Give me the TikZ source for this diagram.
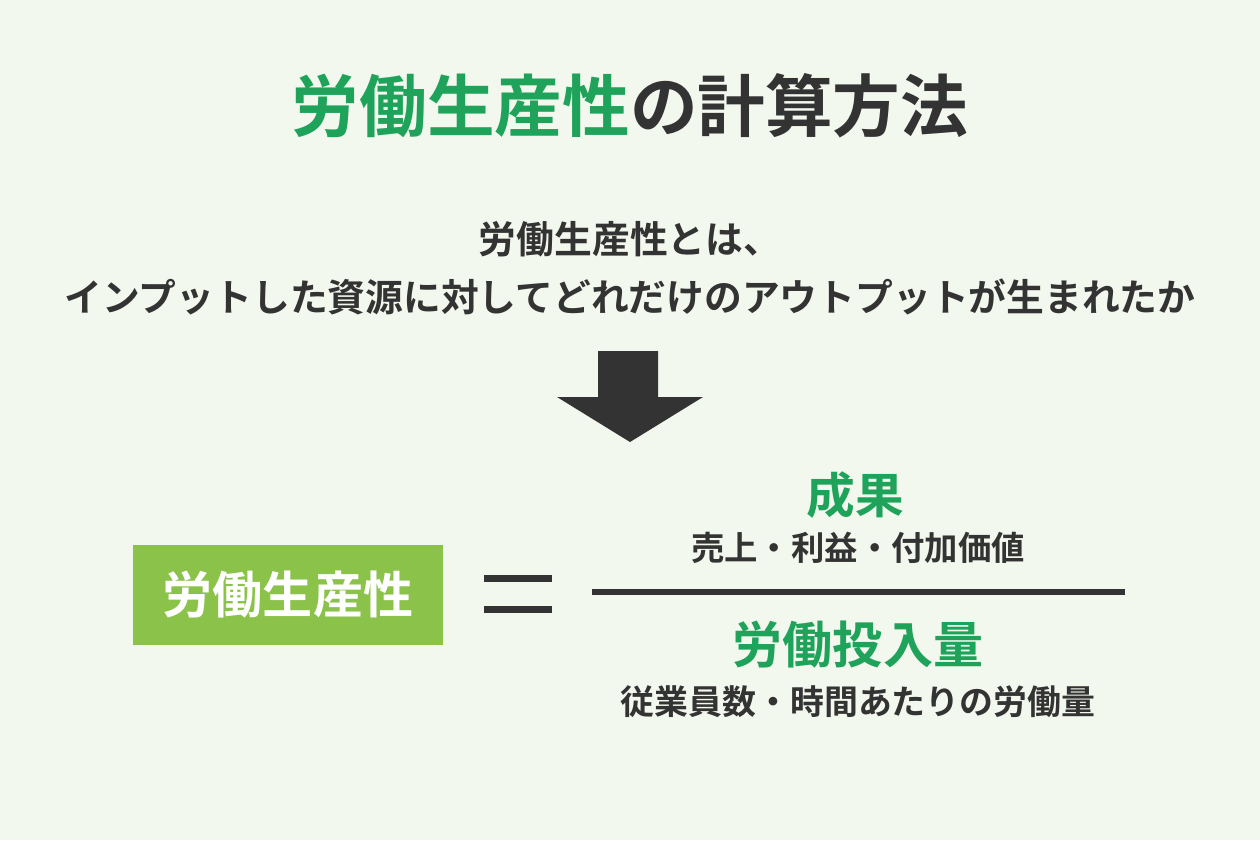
\documentclass[tikz,border=0pt]{standalone}
\usepackage{fontspec}
\newfontfamily\jpbold{Noto Sans CJK JP Bold}
\usepackage{tikz}
\definecolor{bgcol}{HTML}{F3F8EE}
\definecolor{darktxt}{HTML}{333333}
\definecolor{greentxt}{HTML}{1FA35B}
\definecolor{boxgreen}{HTML}{8BC34A}
\tikzset{
	txt/.style={text=darktxt,font=\jpbold,inner sep=0pt},
}
\begin{document}
\begin{tikzpicture}[x=0.02cm,y=-0.02cm]
	%BACKGROUND
	\fill[bgcol] (0,0) rectangle (1260,840);
	\useasboundingbox (0,0) rectangle (1260,840);

	%TITLE
	\node[txt,font=\jpbold\fontsize{38.5}{44}\selectfont] (title) at (630,106)
		{\textcolor{greentxt}{労働生産性}の計算方法};

	%DEFINITION
	\node[txt,font=\jpbold\fontsize{21.5}{33}\selectfont,align=center] (defn) at (630,268)
		{労働生産性とは、\\インプットした資源に対してどれだけのアウトプットが生まれたか};

	%ARROW
	\fill[darktxt] (598,351)--(658,351)--(658,397)--(703,397)--(630,442)--(557,397)--(598,397)--cycle;

	%FORMULA
	\node[fill=boxgreen,minimum width=310*0.02cm,minimum height=100*0.02cm,
		text=white,font=\jpbold\fontsize{28.5}{32}\selectfont] (lp) at (288,595) {労働生産性};
	\draw[darktxt,line width=7*0.02cm] (484,578)--(552,578);	%equals, top
	\draw[darktxt,line width=7*0.02cm] (484,609)--(552,609);	%equals, bottom
	\draw[darktxt,line width=6*0.02cm] (592,592)--(1125,592);	%fraction bar

	\node[txt,text=greentxt,font=\jpbold\fontsize{27.7}{32}\selectfont] (num) at (855,495) {成果};
	\node[txt,font=\jpbold\fontsize{19}{22}\selectfont] (numsub) at (858,548) {売上・利益・付加価値};
	\node[txt,text=greentxt,font=\jpbold\fontsize{28.5}{32}\selectfont] (den) at (858,645) {労働投入量};
	\node[txt,font=\jpbold\fontsize{19.3}{22}\selectfont] (densub) at (858,702) {従業員数・時間あたりの労働量};
\end{tikzpicture}
\end{document}
